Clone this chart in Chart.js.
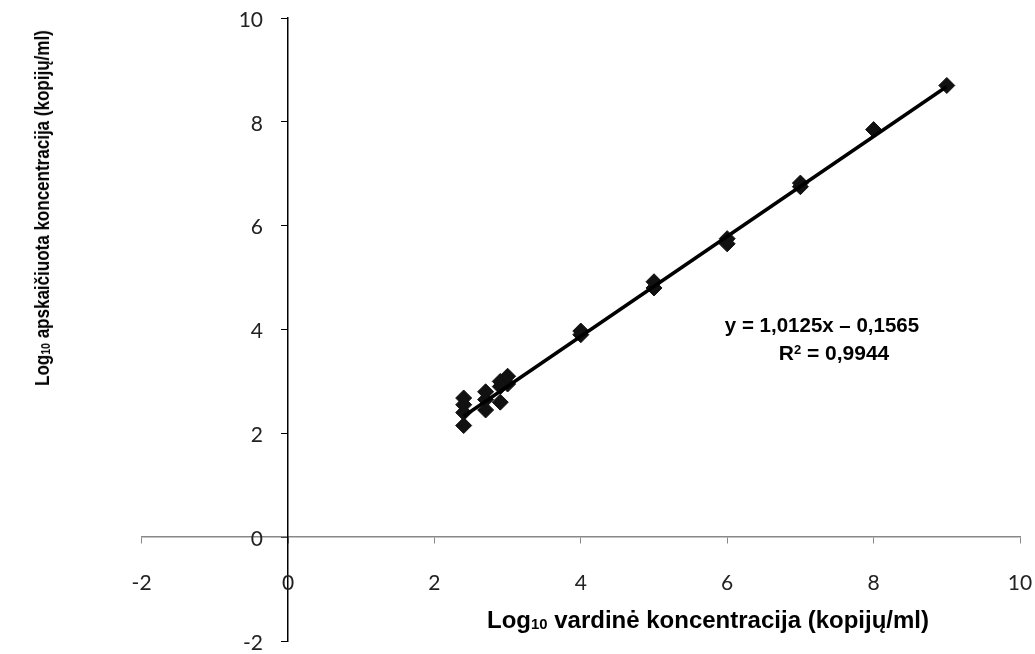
<!DOCTYPE html>
<html>
<head>
<meta charset="utf-8">
<script src="https://cdn.jsdelivr.net/npm/chart.js@4.4.0/dist/chart.umd.min.js"></script>
<style>
  body { margin:0; background:#fff; }
  #wrap { position:relative; width:1035px; height:654px; }
  .lbl { position:absolute; font-family:'Liberation Sans', Arial, sans-serif; font-weight:bold; color:#000; white-space:nowrap; }
  .lbl sub { font-size:0.62em; vertical-align:-1px; }
  .lbl sup { font-size:0.62em; vertical-align:0.45em; line-height:0; }
  #ytitle { left:42px; top:208px; font-size:21px; transform:translate(-50%,-50%) rotate(-90deg) scaleX(0.81); }
  #xtitle { left:708px; top:620px; font-size:24px; transform:translate(-50%,-50%); }
  #eq1 { left:822px; top:325px; font-size:20.5px; transform:translate(-50%,-50%); }
  #eq2 { left:834px; top:353px; font-size:21px; transform:translate(-50%,-50%); }
</style>
</head>
<body>
<div id="wrap">
  <canvas id="chart" width="1035" height="654"></canvas>
  <div class="lbl" id="ytitle">Log<sub>10</sub> apskaičiuota koncentracija (kopijų/ml)</div>
  <div class="lbl" id="xtitle">Log<sub>10</sub> vardinė koncentracija (kopijų/ml)</div>
  <div class="lbl" id="eq1">y = 1,0125x – 0,1565</div>
  <div class="lbl" id="eq2">R<sup>2</sup> = 0,9944</div>
</div>
<script>
// values
const nominalX  = [2.4, 2.4, 2.4, 2.4, 2.7, 2.7, 2.7, 2.9, 2.9, 2.9, 3.0, 3.0, 4, 4, 5, 5, 6, 6, 7, 7, 8, 9];
const measuredY = [2.15, 2.4, 2.55, 2.68, 2.45, 2.65, 2.8, 2.6, 2.9, 3.0, 2.95, 3.1, 3.9, 3.97, 4.8, 4.92, 5.65, 5.75, 6.75, 6.82, 7.85, 8.7];
const trendX = [2.4, 9];
const trendY = [2.33, 8.68];
const xTicks = [-2, 0, 2, 4, 6, 8, 10];
const yTicks = [-2, 0, 2, 4, 6, 8, 10];

const pts = nominalX.map((x, i) => ({ x, y: measuredY[i] }));
const trend = trendX.map((x, i) => ({ x, y: trendY[i] }));
const tickFont = "21px Lato, 'DejaVu Sans', sans-serif";

// axes cross at 0,0 so the tick labels are placed by hand from the scales
const tickLabels = {
  id: 'tickLabels',
  afterDraw(chart){
    const { ctx, scales:{ x, y } } = chart;
    const x0 = x.getPixelForValue(0), y0 = y.getPixelForValue(0);
    ctx.save();
    ctx.font = tickFont; ctx.fillStyle = '#222';
    ctx.textAlign = 'center'; ctx.textBaseline = 'middle';
    xTicks.forEach(v => ctx.fillText(String(v), x.getPixelForValue(v), y0 + 46));
    ctx.textAlign = 'right';
    yTicks.forEach(v => ctx.fillText(String(v), x0 - 25, y.getPixelForValue(v) + 2));
    ctx.restore();
  }
};

new Chart(document.getElementById('chart').getContext('2d'), {
  type: 'scatter',
  data: {
    datasets: [
      { type:'line', data: trend, borderColor:'#000', borderWidth:3.5, pointRadius:0, fill:false, order:1 },
      { data: pts, pointStyle:'rectRot', pointRadius:8, backgroundColor:'#111', borderColor:'#111', borderWidth:1, order:2 }
    ]
  },
  options: {
    responsive:false, animation:false,
    layout:{ padding:{ left:141.6, right:15, top:18, bottom:13 } },
    plugins:{ legend:{ display:false }, tooltip:{ enabled:false } },
    scales:{
      x:{
        type:'linear', position:{ y:0 }, min:-2, max:10,
        afterBuildTicks: s => { s.ticks = xTicks.map(v => ({ value:v })); },
        grid:{ drawOnChartArea:false, drawTicks:true, tickLength:6, color:'#888' },
        border:{ display:true, color:'#888', width:1.5 },
        ticks:{ display:false }
      },
      y:{
        type:'linear', position:{ x:0 }, min:-2, max:10,
        afterBuildTicks: s => { s.ticks = yTicks.map(v => ({ value:v })); },
        grid:{ drawOnChartArea:false, drawTicks:true, tickLength:6, color:'#000' },
        border:{ display:true, color:'#000', width:1.5 },
        ticks:{ display:false }
      }
    }
  },
  plugins:[tickLabels]
});
</script>
</body>
</html>
